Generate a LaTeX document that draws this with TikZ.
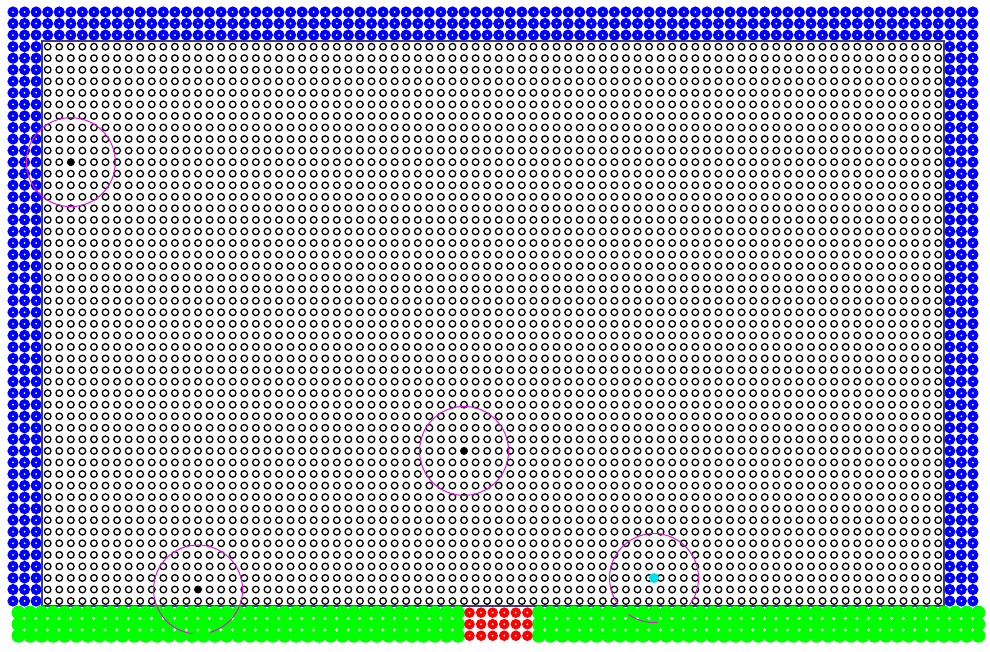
\documentclass[tikz,border=0pt]{standalone}
\definecolor{wallblue}{RGB}{0,0,255}
\definecolor{floorgreen}{RGB}{0,255,0}
\definecolor{inletred}{RGB}{255,0,0}
\definecolor{probecyan}{RGB}{0,225,235}
\definecolor{kernelmag}{RGB}{225,20,225}
\definecolor{boxline}{RGB}{60,60,130}
\tikzset{
  fluid/.style={draw=black, line width=1.3pt},
  wall/.style={fill=wallblue},
  centre/.style={fill=white},
  kernel/.style={draw=kernelmag, line width=1pt},
}
\begin{document}
\begin{tikzpicture}[x=1pt,y=-1pt]
\useasboundingbox[fill=white] (0,0) rectangle (990,651);
\def\dx{11.565}
\def\dy{11.55}
% fluid particles
\foreach \i in {3,...,80} { \draw[fluid] \foreach \j in {3,...,51} { ({13+\dx*\i},{12+\dy*\j}) circle[radius=3.3] }; }
% wall particles
\foreach \i in {0,...,83} {
  \fill[wall] \foreach \j in {0,1,2} { ({13+\dx*\i},{12+\dy*\j}) circle[radius=5.6] };
  \fill[centre] \foreach \j in {0,1,2} { ({13+\dx*\i},{12+\dy*\j}) circle[radius=1] };
}
\foreach \i in {0,1,2,81,82,83} {
  \fill[wall] \foreach \j in {3,...,51} { ({13+\dx*\i},{12+\dy*\j}) circle[radius=5.6] };
  \fill[centre] \foreach \j in {3,...,51} { ({13+\dx*\i},{12+\dy*\j}) circle[radius=1] };
}
% domain box
\coordinate (bl) at (42,606);
\coordinate (tl) at (42,41);
\coordinate (tr) at (944,41);
\coordinate (br) at (944,606);
\draw[boxline, line width=2pt] (bl) -- (tl) -- (tr) -- (br) -- cycle;
% floor particles
\foreach \k in {0,...,38,45,46,...,83} {
  \fill[floorgreen] \foreach \j in {52,53,54} { ({18.5+\dx*\k},{12+\dy*\j}) circle[radius=7] };
}
\foreach \k in {39,...,44} {
  \fill[inletred] \foreach \j in {52,53,54} { ({18.5+\dx*\k},{12+\dy*\j}) circle[radius=5.3] };
  \fill[centre] \foreach \j in {52,53,54} { ({18.5+\dx*\k},{12+\dy*\j}) circle[radius=1] };
}
% probe particles
\coordinate (p1) at ({13+\dx*5},{12+\dy*13});
\coordinate (p2) at ({13+\dx*39},{12+\dy*38});
\coordinate (p3) at ({13+\dx*16},{12+\dy*50});
\coordinate (p4) at (654,578);
\fill[black] (p1) circle[radius=3.6] (p2) circle[radius=3.6] (p3) circle[radius=3.6];
\fill[probecyan] (p4) circle[radius=5];
% kernel supports
\draw[kernel] (p1) circle[radius=44.5];
\draw[kernel] (p2) circle[radius=44.5];
\draw[kernel] (p3) ++(95:44.5) arc[start angle=95, end angle=434, radius=44.5];
\draw[kernel] (p4) ++(-216:44.5) arc[start angle=-216, end angle=37, radius=44.5];
\draw[kernel] (p4) ++(85:44.5) arc[start angle=85, end angle=125, radius=44.5];
\end{tikzpicture}
\end{document}
